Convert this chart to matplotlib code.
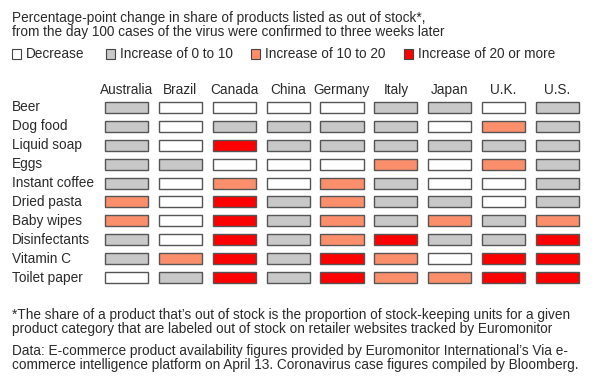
import matplotlib.pyplot as plt
from matplotlib.patches import Rectangle
from matplotlib.transforms import blended_transform_factory, offset_copy

plt.rcParams['font.family'] = ['Liberation Sans', 'DejaVu Sans']

# data
countries = ["Australia", "Brazil", "Canada", "China", "Germany", "Italy", "Japan", "U.K.", "U.S."]
products = ["Beer", "Dog food", "Liquid soap", "Eggs", "Instant coffee", "Dried pasta",
            "Baby wipes", "Disinfectants", "Vitamin C", "Toilet paper"]
# 0 = decrease, 1 = +0-10, 2 = +10-20, 3 = +20 or more
levels = [
    [1, 0, 0, 0, 0, 1, 1, 0, 1],
    [1, 0, 1, 1, 1, 1, 0, 2, 1],
    [1, 0, 3, 1, 1, 1, 1, 1, 1],
    [1, 1, 0, 0, 0, 2, 0, 2, 1],
    [1, 0, 2, 0, 2, 1, 0, 0, 1],
    [2, 0, 3, 1, 2, 1, 1, 0, 1],
    [2, 0, 3, 1, 2, 1, 2, 1, 2],
    [1, 0, 3, 1, 2, 3, 1, 1, 3],
    [1, 2, 3, 1, 3, 2, 0, 3, 3],
    [0, 1, 3, 1, 3, 2, 2, 3, 3],
]
level_names = ["Decrease", "Increase of 0 to 10", "Increase of 10 to 20", "Increase of 20 or more"]
level_colors = ["#ffffff", "#c8c8c8", "#fb8f6b", "#ff0000"]

W, H = 600, 384
fig = plt.figure(figsize=(6, 3.84), dpi=100)

def fx(px):
    return px / W

def fy(py):
    return 1 - py / H

fs = 9.8
tc = '#2a2a2a'

def line(y, s):
    fig.text(fx(12), fy(y), s, fontsize=fs, va='baseline', ha='left', color=tc)

# title
line(22, "Percentage-point change in share of products listed as out of stock*,")
line(36, "from the day 100 cases of the virus were confirmed to three weeks later")

# legend
leg_x = [12, 106, 251, 404]
for x0, name, col in zip(leg_x, level_names, level_colors):
    fig.patches.append(Rectangle((fx(x0), fy(59)), 9 / W, 10 / H, transform=fig.transFigure,
                                 facecolor=col, edgecolor='#444444', linewidth=0.8))
    fig.text(fx(x0 + 14), fy(58.5), name, fontsize=fs, va='baseline', ha='left', color=tc)

# grid of cells
ax = fig.add_axes([fx(99.5), fy(287), 485 / W, 189 / H])
ax.set_xlim(-0.5, len(countries) - 0.5)
ax.set_ylim(len(products) - 0.5, -0.5)
for r, row in enumerate(levels):
    cols = [level_colors[v] for v in row]
    ax.bar(range(len(countries)), [0.58] * len(countries), bottom=r - 0.29, width=0.8,
           color=cols, edgecolor='#555555', linewidth=1)
ax.axis('off')

head_trans = blended_transform_factory(ax.transData, fig.transFigure)
for i, c in enumerate(countries):
    ax.text(i, fy(94), c, transform=head_trans, ha='center', va='baseline', fontsize=fs, color=tc)

trans = offset_copy(blended_transform_factory(fig.transFigure, ax.transData),
                    fig=fig, x=0, y=-4, units='dots')
for r, p in enumerate(products):
    ax.text(fx(12), r, p, transform=trans, ha='left', va='baseline', fontsize=fs, color=tc)

# footnotes
line(318.5, "*The share of a product that\u2019s out of stock is the proportion of stock-keeping units for a given")
line(332.5, "product category that are labeled out of stock on retailer websites tracked by Euromonitor")
line(355.5, "Data: E-commerce product availability figures provided by Euromonitor International\u2019s Via e-")
line(369.5, "commerce intelligence platform on April 13. Coronavirus case figures compiled by Bloomberg.")

fig.savefig("out.png", dpi=100, facecolor='white')
